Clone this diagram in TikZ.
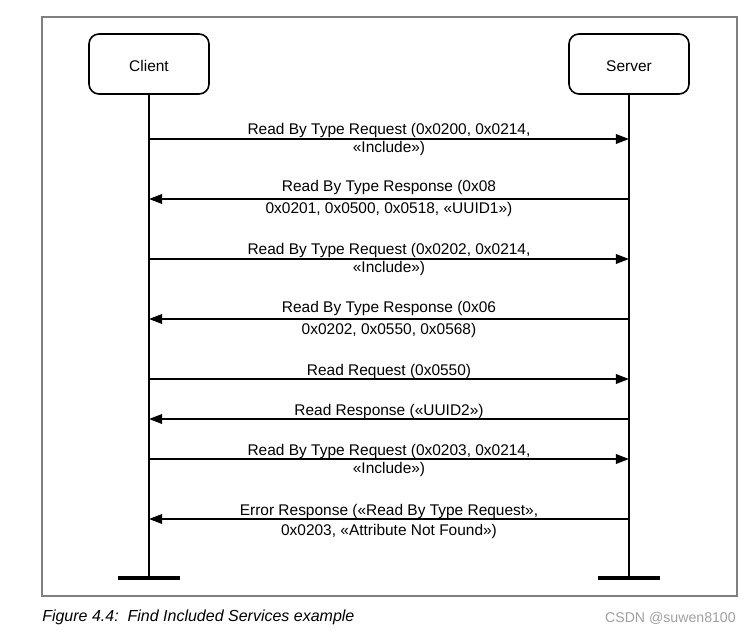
\documentclass[tikz,border=0pt]{standalone}
\usepackage{fontspec}
\setmainfont{Liberation Sans}
\usetikzlibrary{arrows.meta}
\definecolor{framegray}{HTML}{7F7F7F}
\definecolor{wmgray}{HTML}{A0A0A0}
\begin{document}
\begin{tikzpicture}[x=0.75pt,y=-0.75pt,
  actor/.style={draw=black,line width=1.2pt,rounded corners=7.5pt,minimum width=90pt,minimum height=45pt,inner sep=0pt,text height=11.3pt,text depth=0pt,font=\fontsize{11.6}{13}\selectfont},
  life/.style={line width=1.2pt},
  endbar/.style={line width=2.4pt},
  msg/.style={line width=1.1pt,-{Triangle[length=9.8pt,width=7.2pt]}},
  lbl/.style={anchor=base,inner sep=0pt,font=\fontsize{11.6}{13}\selectfont}]
\useasboundingbox (0,0) rectangle (752,634);
\fill[white] (0,0) rectangle (752,634);
\draw[framegray,line width=0.9pt] (42,17) rectangle (737,596);
% actors
\node[actor] (client) at (149,64) {Client};
\node[actor] (server) at (629,64) {Server};
\coordinate (cend) at (149,578);
\coordinate (send) at (629,578);
\draw[life] (client.south) -- (cend);
\draw[life] (server.south) -- (send);
\draw[endbar] (118,578) coordinate (cbl) -- (180,578) coordinate (cbr);
\draw[endbar] (598,578) coordinate (sbl) -- (660,578) coordinate (sbr);
% message anchor points
\foreach \i/\y in {1/139,2/199,3/259,4/319,5/379,6/419,7/459,8/519}{
  \coordinate (c\i) at (149,\y);
  \coordinate (s\i) at (629,\y);
}
\draw[msg] (c1) -- (s1);
\draw[msg] (s2) -- (c2);
\draw[msg] (c3) -- (s3);
\draw[msg] (s4) -- (c4);
\draw[msg] (c5) -- (s5);
\draw[msg] (s6) -- (c6);
\draw[msg] (c7) -- (s7);
\draw[msg] (s8) -- (c8);
% labels
\node[lbl] (m1a) at (389,135) {Read By Type Request (0x0200, 0x0214,};
\node[lbl] (m1b) at (389,153) {«Include»)};
\node[lbl] (m2a) at (389,192) {Read By Type Response (0x08};
\node[lbl] (m2b) at (389,214) {0x0201, 0x0500, 0x0518, «UUID1»)};
\node[lbl] (m3a) at (389,255) {Read By Type Request (0x0202, 0x0214,};
\node[lbl] (m3b) at (389,273) {«Include»)};
\node[lbl] (m4a) at (389,312) {Read By Type Response (0x06};
\node[lbl] (m4b) at (389,334) {0x0202, 0x0550, 0x0568)};
\node[lbl] (m5a) at (389,375) {Read Request (0x0550)};
\node[lbl] (m6a) at (389,415) {Read Response («UUID2»)};
\node[lbl] (m7a) at (389,455) {Read By Type Request (0x0203, 0x0214,};
\node[lbl] (m7b) at (389,473) {«Include»)};
\node[lbl] (m8a) at (389,515) {Error Response («Read By Type Request»,};
\node[lbl] (m8b) at (389,535) {0x0203, «Attribute Not Found»)};
% caption
\node[anchor=base west,inner sep=0pt,font=\fontsize{12}{14}\selectfont\itshape] (cap) at (42,621) {Figure 4.4:\ \ Find Included Services example};
\node[anchor=base east,inner sep=0pt,text=wmgray,font=\fontsize{10.6}{12}\selectfont] (wm) at (736,622) {CSDN @suwen8100};
\end{tikzpicture}
\end{document}
